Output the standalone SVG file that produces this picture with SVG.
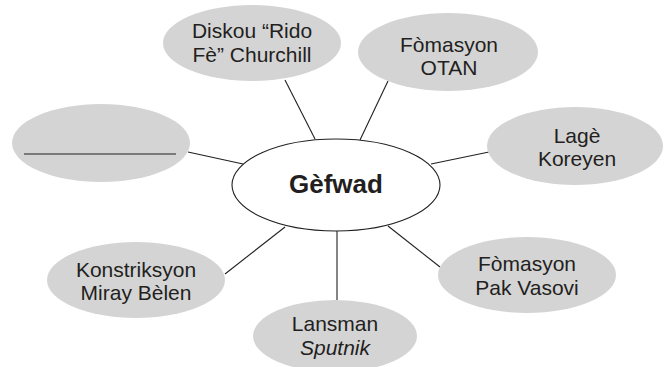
<svg xmlns="http://www.w3.org/2000/svg" width="670" height="367" viewBox="0 0 670 367">
<style>
.bub{fill:#d4d4d5;stroke:none}
.t{font-family:"Liberation Sans",Arial,sans-serif;font-size:21px;fill:#231f20;text-anchor:middle}
.c{stroke:#231f20;stroke-width:1.1;fill:none}
</style>
<rect width="670" height="367" fill="#fff"/>
<g id="connectors" class="c">
<line x1="285" y1="80" x2="315" y2="139"/>
<line x1="388" y1="81" x2="360" y2="140"/>
<line x1="489" y1="152" x2="431" y2="164"/>
<line x1="188" y1="152" x2="243" y2="164"/>
<line x1="225" y1="274" x2="285" y2="227"/>
<line x1="337" y1="231" x2="337" y2="300"/>
<line x1="388" y1="226" x2="440" y2="267"/>
</g>
<g id="center">
<ellipse cx="336" cy="185" rx="104" ry="46" fill="#fff" stroke="#231f20" stroke-width="1.1"/>
<text x="336" y="193" class="t" style="font-weight:bold;font-size:26px">Gèfwad</text>
</g>
<g id="churchill">
<ellipse class="bub" cx="252" cy="43" rx="89" ry="38"/>
<text class="t" x="252" y="38">Diskou “Rido</text>
<text class="t" x="252" y="62">Fè” Churchill</text>
</g>
<g id="otan">
<ellipse class="bub" cx="448" cy="52" rx="90" ry="39"/>
<text class="t" x="449" y="52">Fòmasyon</text>
<text class="t" x="449" y="75">OTAN</text>
</g>
<g id="korea">
<ellipse class="bub" cx="575" cy="146" rx="88" ry="39"/>
<text class="t" x="577" y="143">Lagè</text>
<text class="t" x="577" y="166">Koreyen</text>
</g>
<g id="blank">
<ellipse class="bub" cx="101" cy="143" rx="89" ry="39"/>
<line x1="24" y1="154" x2="176" y2="154" stroke="#231f20" stroke-width="1.2"/>
</g>
<g id="berlin">
<ellipse class="bub" cx="136" cy="280" rx="89" ry="38"/>
<text class="t" x="136" y="277">Konstriksyon</text>
<text class="t" x="136" y="300">Miray Bèlen</text>
</g>
<g id="sputnik">
<ellipse class="bub" cx="335" cy="336" rx="82" ry="36"/>
<text class="t" x="335" y="331">Lansman</text>
<text class="t" x="335" y="355" font-style="italic">Sputnik</text>
</g>
<g id="warsaw">
<ellipse class="bub" cx="527" cy="275" rx="89" ry="38"/>
<text class="t" x="527" y="271">Fòmasyon</text>
<text class="t" x="527" y="295">Pak Vasovi</text>
</g>
</svg>
